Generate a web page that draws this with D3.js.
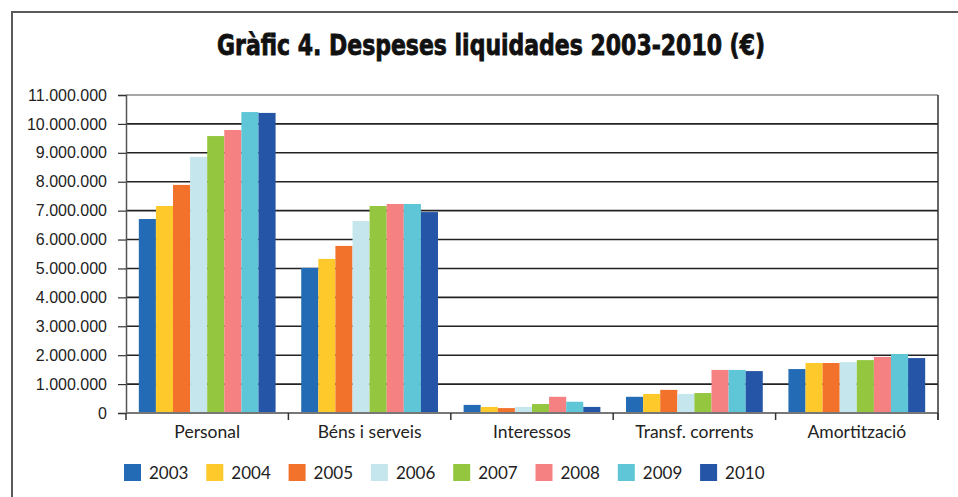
<!DOCTYPE html>
<html>
<head>
<meta charset="utf-8">
<script src="https://cdn.jsdelivr.net/npm/d3@7"></script>
<style>
  body { margin: 0; background: #fff; }
  svg { display: block; }
</style>
</head>
<body>
<svg id="chart"></svg>
<script>
// categories and yearly series (values in euros)
var categories = ["Personal", "Béns i serveis", "Interessos", "Transf. corrents", "Amortització"];
var years = ["2003", "2004", "2005", "2006", "2007", "2008", "2009", "2010"];
var v2003 = [6710000, 5020000, 280000, 560000, 1520000];
var v2004 = [7160000, 5330000, 210000, 660000, 1730000];
var v2005 = [7890000, 5780000, 170000, 800000, 1730000];
var v2006 = [8860000, 6640000, 210000, 660000, 1760000];
var v2007 = [9580000, 7160000, 310000, 690000, 1830000];
var v2008 = [9790000, 7230000, 560000, 1490000, 1940000];
var v2009 = [10410000, 7230000, 390000, 1490000, 2040000];
var v2010 = [10380000, 6950000, 210000, 1450000, 1900000];
var yTicks = [0, 1000000, 2000000, 3000000, 4000000, 5000000, 6000000, 7000000, 8000000, 9000000, 10000000, 11000000];
var colors = ["#236bb4", "#fec92b", "#f2722c", "#c5e6ed", "#94c63f", "#f58182", "#5ec6d6", "#2455a6"];

var series = [v2003, v2004, v2005, v2006, v2007, v2008, v2009, v2010];

var width = 958, height = 497;
var margin = {top: 95, right: 20, bottom: 84, left: 126};

var svg = d3.select("#chart")
            .attr("width", width)
            .attr("height", height)
            .style("font-family", "Lato, 'Open Sans', sans-serif");

// outer frame (top and left edges only visible)
svg.append("path")
   .attr("d", "M12,497 L12,12 L958,12")
   .attr("fill", "none")
   .attr("stroke", "#5a5a5a")
   .attr("stroke-width", 2);

svg.append("text")
   .attr("x", 491)
   .attr("y", 55)
   .attr("text-anchor", "middle")
   .attr("textLength", 548)
   .attr("lengthAdjust", "spacingAndGlyphs")
   .style("font-family", "'Liberation Sans Narrow', 'DejaVu Sans Condensed', sans-serif")
   .style("font-weight", "bold")
   .style("font-size", "28px")
   .attr("fill", "#111")
   .attr("stroke", "#111")
   .attr("stroke-width", 0.8)
   .text("Gràfic 4. Despeses liquidades 2003-2010 (€)");

var x0 = d3.scaleBand()
           .domain(categories)
           .range([margin.left, 938])
           .paddingInner(0)
           .paddingOuter(0);

var x1 = d3.scaleBand()
           .domain(years)
           .range([0, x0.bandwidth()])
           .paddingOuter(0.75)
           .paddingInner(0);

var y = d3.scaleLinear()
          .domain([0, 11000000])
          .range([413, margin.top]);

var fmt = function(d) {
  return d3.format(",")(d).replace(/,/g, ".");
};

// gridlines
svg.append("g")
   .selectAll("line")
   .data(yTicks.slice(1))
   .enter().append("line")
   .attr("x1", margin.left)
   .attr("x2", 938)
   .attr("y1", d => y(d))
   .attr("y2", d => y(d))
   .attr("stroke", d => d === 11000000 ? "#8a8a8a" : "#222")
   .attr("stroke-width", 1.6);

// y axis
var yAxis = svg.append("g")
   .attr("transform", `translate(${margin.left},0)`)
   .call(d3.axisLeft(y).tickValues(yTicks).tickFormat(fmt).tickSize(8).tickPadding(11));
yAxis.select(".domain").attr("stroke", "#555").attr("stroke-width", 1.5);
yAxis.selectAll(".tick line").attr("stroke", "#333").attr("stroke-width", 1.2);
yAxis.selectAll("text").style("font-size", "16px").attr("fill", "#222");

// bars
var groups = svg.append("g")
   .selectAll("g")
   .data(categories)
   .enter().append("g")
   .attr("transform", d => `translate(${x0(d)},0)`);

groups.selectAll("rect")
   .data((c, ci) => years.map((yr, si) => ({year: yr, value: series[si][ci], color: colors[si]})))
   .enter().append("rect")
   .attr("x", d => x1(d.year))
   .attr("y", d => y(d.value))
   .attr("width", x1.bandwidth())
   .attr("height", d => y(0) - y(d.value))
   .attr("fill", d => d.color);

// x axis
var xAxis = svg.append("g")
   .attr("transform", "translate(0,413)");
xAxis.append("line")
   .attr("x1", margin.left).attr("x2", 938)
   .attr("stroke", "#777").attr("stroke-width", 1.8);
xAxis.selectAll(".sep")
   .data(categories.concat(["end"]))
   .enter().append("line")
   .attr("class", "sep")
   .attr("x1", (d, i) => i < categories.length ? x0(d) : 938)
   .attr("x2", (d, i) => i < categories.length ? x0(d) : 938)
   .attr("y1", 0).attr("y2", 7)
   .attr("stroke", "#333").attr("stroke-width", 1.5);
xAxis.selectAll(".lbl")
   .data(categories)
   .enter().append("text")
   .attr("class", "lbl")
   .attr("x", d => x0(d) + x0.bandwidth() / 2)
   .attr("y", 25)
   .attr("text-anchor", "middle")
   .style("font-size", "17.5px")
   .attr("fill", "#222")
   .text(d => d);

// right border of plot
svg.append("line")
   .attr("x1", 938).attr("x2", 938)
   .attr("y1", margin.top).attr("y2", 420)
   .attr("stroke", "#333").attr("stroke-width", 1.5);

// legend
var legend = svg.append("g")
   .selectAll("g")
   .data(years)
   .enter().append("g")
   .attr("transform", (d, i) => `translate(${124 + i * 82.3},464)`);
legend.append("rect")
   .attr("width", 17).attr("height", 17)
   .attr("fill", (d, i) => colors[i]);
legend.append("text")
   .attr("x", 25).attr("y", 15)
   .style("font-size", "17px")
   .attr("fill", "#222")
   .text(d => d);
</script>
</body>
</html>
